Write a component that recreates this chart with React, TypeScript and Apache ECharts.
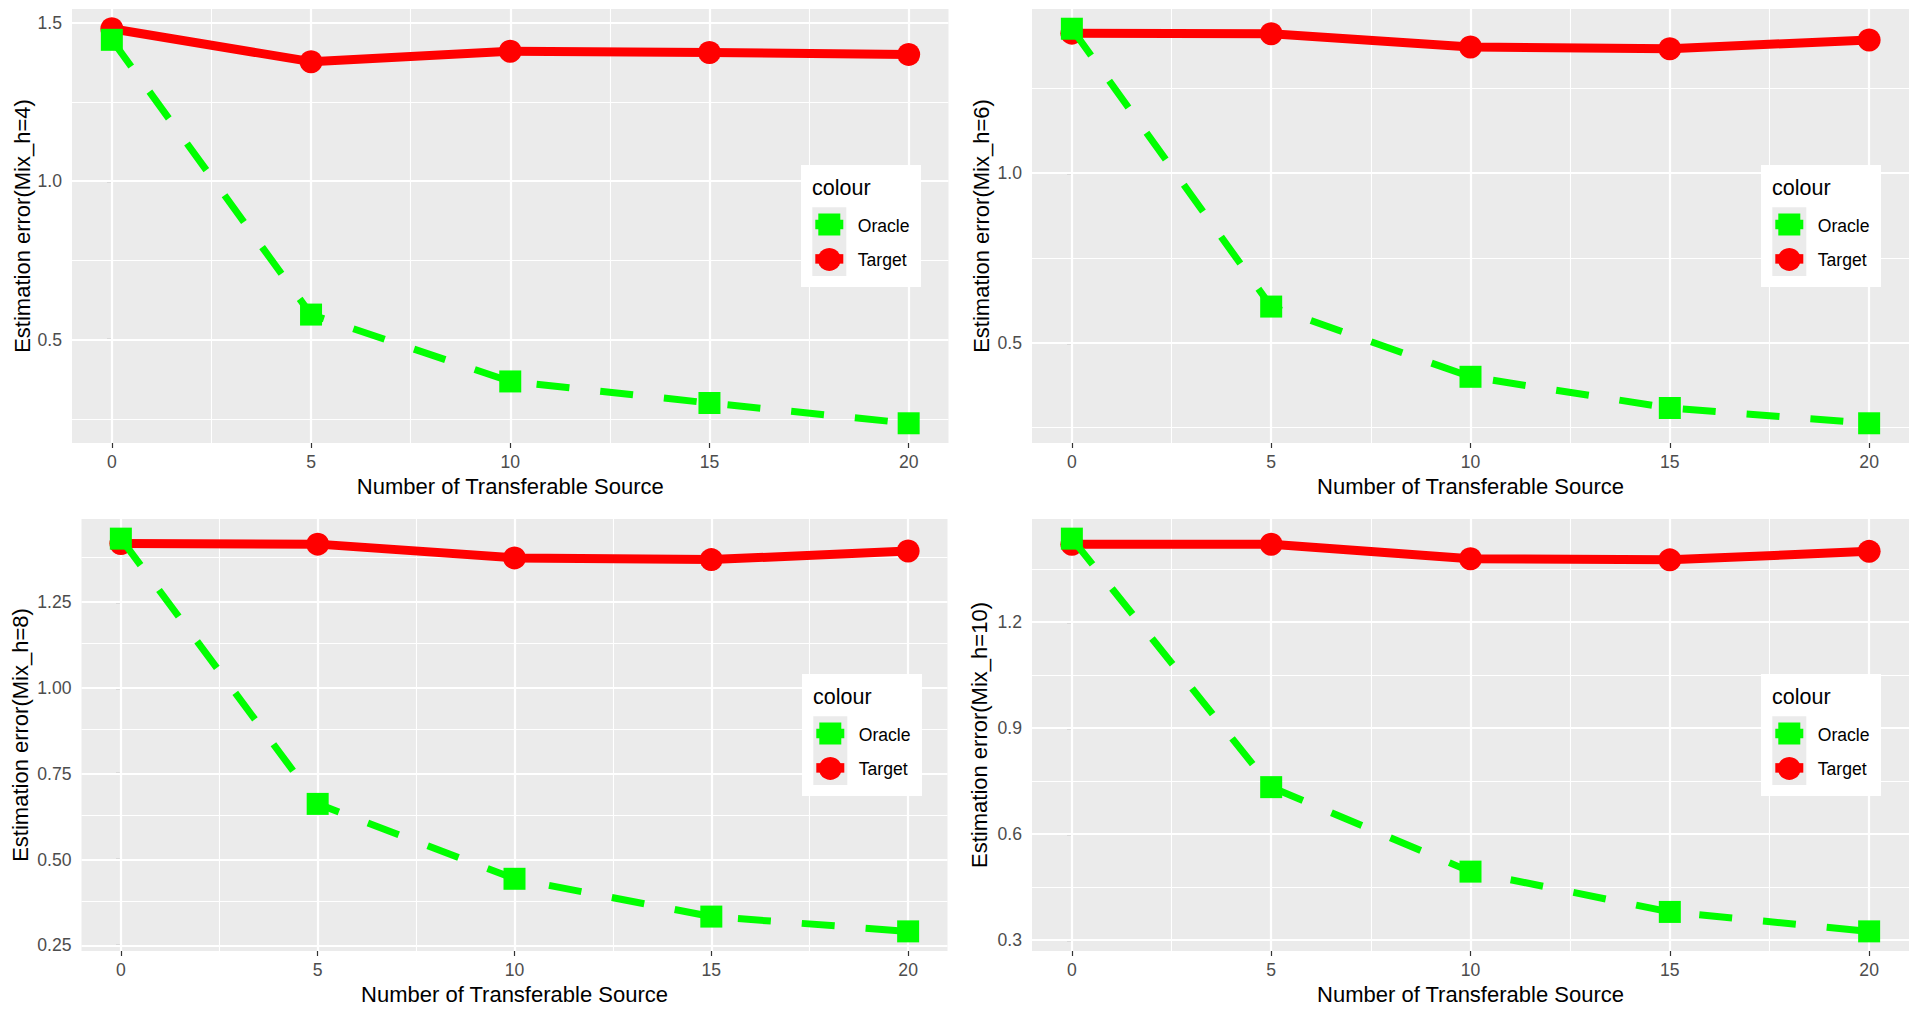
import React, { useEffect, useRef } from "react";
import * as echarts from "echarts";

// ---------- data ----------
const sources = [0, 5, 10, 15, 20];
const seriesNames = ["Oracle", "Target"];
const xTitle = "Number of Transferable Source";
const yTitles = [
  "Estimation error(Mix_h=4)",
  "Estimation error(Mix_h=6)",
  "Estimation error(Mix_h=8)",
  "Estimation error(Mix_h=10)",
];

const oracleH4 = [1.446, 0.579, 0.368, 0.3, 0.236];
const targetH4 = [1.481, 1.377, 1.41, 1.406, 1.4];
const oracleH6 = [1.426, 0.607, 0.4, 0.308, 0.263];
const targetH6 = [1.413, 1.411, 1.372, 1.367, 1.393];
const oracleH8 = [1.434, 0.662, 0.444, 0.334, 0.291];
const targetH8 = [1.42, 1.418, 1.378, 1.373, 1.398];
const oracleH10 = [1.436, 0.733, 0.494, 0.38, 0.325];
const targetH10 = [1.42, 1.42, 1.379, 1.376, 1.4];

const xMajor = [0, 5, 10, 15, 20];
const xMinor = [2.5, 7.5, 12.5, 17.5];
const yMajorH4 = [0.5, 1.0, 1.5];
const yMinorH4 = [0.25, 0.75, 1.25];
const yMajorH6 = [0.5, 1.0];
const yMinorH6 = [0.25, 0.75, 1.25];
const yMajorH8 = [0.25, 0.5, 0.75, 1.0, 1.25];
const yMinorH8 = [0.375, 0.625, 0.875, 1.125, 1.375];
const yMajorH10 = [0.3, 0.6, 0.9, 1.2];
const yMinorH10 = [0.45, 0.75, 1.05, 1.35];
const yDecimals = [1, 1, 2, 1];

const oracleAll = [oracleH4, oracleH6, oracleH8, oracleH10];
const targetAll = [targetH4, targetH6, targetH8, targetH10];
const yMajorAll = [yMajorH4, yMajorH6, yMajorH8, yMajorH10];
const yMinorAll = [yMinorH4, yMinorH6, yMinorH8, yMinorH10];

// ---------- layout / style ----------
const FONT = "'Liberation Sans', Arial, Helvetica, sans-serif";
const PANEL_BG = "#EBEBEB";
const ORACLE_COLOR = "#00FF00";
const TARGET_COLOR = "#FF0000";
const TITLE_SIZE = 22;
const SMALL_SIZE = 17.6;

const PANELS = [
  { left: 72, right: 948.5, top: 9, bottom: 443, yGap: 38, legend: [801, 165] },
  { left: 1032, right: 1909, top: 9, bottom: 443, yGap: 40, legend: [1761, 165] },
  { left: 81.5, right: 947.5, top: 519, bottom: 951, yGap: 50, legend: [802, 674] },
  { left: 1032, right: 1909, top: 519, bottom: 951, yGap: 42, legend: [1761, 674] },
];

function expandRange(vals: number[]) {
  const lo = Math.min(...vals);
  const hi = Math.max(...vals);
  const pad = (hi - lo) * 0.05;
  return [lo - pad, hi + pad];
}

function buildOption() {
  const grid: any[] = [];
  const xAxis: any[] = [];
  const yAxis: any[] = [];
  const series: any[] = [];
  const graphic: any[] = [];
  const [xMin, xMax] = expandRange(sources);

  PANELS.forEach((p, i) => {
    grid.push({
      left: p.left,
      top: p.top,
      width: p.right - p.left,
      height: p.bottom - p.top,
      show: true,
      backgroundColor: PANEL_BG,
      borderWidth: 0,
    });
    xAxis.push({
      type: "value",
      gridIndex: i,
      min: xMin,
      max: xMax,
      axisLine: { show: false },
      axisTick: {
        show: true,
        length: 5,
        customValues: xMajor,
        lineStyle: { color: "#333333", width: 1.2 },
      },
      axisLabel: {
        customValues: xMajor,
        color: "#4D4D4D",
        fontSize: SMALL_SIZE,
        fontFamily: FONT,
        margin: 10,
        formatter: (v: number) => String(v),
      },
      splitLine: { show: false },
      name: xTitle,
      nameLocation: "middle",
      nameGap: 32,
      nameTextStyle: { color: "#000000", fontSize: TITLE_SIZE, fontFamily: FONT },
    });
    const [yMin, yMax] = expandRange([...oracleAll[i], ...targetAll[i]]);
    const dec = yDecimals[i];
    yAxis.push({
      type: "value",
      gridIndex: i,
      min: yMin,
      max: yMax,
      axisLine: { show: false },
      axisTick: {
        show: true,
        length: 5,
        customValues: yMajorAll[i],
        lineStyle: { color: "#333333", width: 1.2 },
      },
      axisLabel: {
        customValues: yMajorAll[i],
        color: "#4D4D4D",
        fontSize: SMALL_SIZE,
        fontFamily: FONT,
        margin: 10,
        formatter: (v: number) => v.toFixed(dec),
      },
      splitLine: { show: false },
      name: yTitles[i],
      nameLocation: "middle",
      nameRotate: 90,
      nameGap: p.yGap,
      nameTextStyle: { color: "#000000", fontSize: TITLE_SIZE, fontFamily: FONT },
    });

    const gridLines: any[] = [];
    xMinor.forEach((v) => gridLines.push({ xAxis: v, lineStyle: { width: 1.1 } }));
    yMinorAll[i].forEach((v) => gridLines.push({ yAxis: v, lineStyle: { width: 1.1 } }));
    xMajor.forEach((v) => gridLines.push({ xAxis: v, lineStyle: { width: 2.2 } }));
    yMajorAll[i].forEach((v) => gridLines.push({ yAxis: v, lineStyle: { width: 2.2 } }));

    series.push({
      type: "line",
      name: "grid-" + i,
      xAxisIndex: i,
      yAxisIndex: i,
      data: [],
      z: 1,
      silent: true,
      markLine: {
        z: 1,
        silent: true,
        symbol: ["none", "none"],
        label: { show: false },
        emphasis: { disabled: true },
        lineStyle: { color: "#FFFFFF", type: "solid" },
        data: gridLines,
      },
    });

    series.push({
      type: "line",
      name: seriesNames[1],
      xAxisIndex: i,
      yAxisIndex: i,
      data: sources.map((x, j) => [x, targetAll[i][j]]),
      symbol: "circle",
      symbolSize: 23,
      showAllSymbol: true,
      lineStyle: { color: TARGET_COLOR, width: 9, cap: "butt" },
      itemStyle: { color: TARGET_COLOR },
      emphasis: { disabled: true },
      silent: true,
      z: 3,
    });
    series.push({
      type: "line",
      name: seriesNames[0],
      xAxisIndex: i,
      yAxisIndex: i,
      data: sources.map((x, j) => [x, oracleAll[i][j]]),
      symbol: "rect",
      symbolSize: 22,
      showAllSymbol: true,
      lineStyle: { color: ORACLE_COLOR, width: 7, type: [33, 31], cap: "butt" },
      itemStyle: { color: ORACLE_COLOR },
      emphasis: { disabled: true },
      silent: true,
      z: 4,
    });

    // legend (ggplot style)
    const [lx, ly] = p.legend;
    const keyX = lx + 11.3;
    const keyW = 34;
    const keyH = 34.4;
    const k1 = ly + 42.3;
    const k2 = k1 + keyH;
    const cx = keyX + keyW / 2;
    graphic.push(
      { type: "rect", shape: { x: lx, y: ly, width: 120, height: 122 }, style: { fill: "#FFFFFF" }, z: 10, silent: true },
      {
        type: "text",
        x: lx + 11,
        y: ly + 22.5,
        style: { text: "colour", fill: "#000000", fontSize: 21.5, fontFamily: FONT, verticalAlign: "middle", align: "left" },
        z: 11,
        silent: true,
      },
      { type: "rect", shape: { x: keyX, y: k1, width: keyW, height: keyH * 2 }, style: { fill: PANEL_BG }, z: 11, silent: true },
      {
        type: "line",
        shape: { x1: keyX + 3, y1: k1 + keyH / 2, x2: keyX + keyW - 3, y2: k1 + keyH / 2 },
        style: { stroke: ORACLE_COLOR, lineWidth: 9.5 },
        z: 12,
        silent: true,
      },
      {
        type: "rect",
        shape: { x: cx - 11, y: k1 + keyH / 2 - 11, width: 22, height: 22 },
        style: { fill: ORACLE_COLOR },
        z: 13,
        silent: true,
      },
      {
        type: "line",
        shape: { x1: keyX + 3, y1: k2 + keyH / 2, x2: keyX + keyW - 3, y2: k2 + keyH / 2 },
        style: { stroke: TARGET_COLOR, lineWidth: 9.5 },
        z: 12,
        silent: true,
      },
      {
        type: "circle",
        shape: { cx: cx, cy: k2 + keyH / 2 + 0.5, r: 11.5 },
        style: { fill: TARGET_COLOR },
        z: 13,
        silent: true,
      },
      {
        type: "text",
        x: lx + 56.7,
        y: k1 + keyH / 2 + 1.5,
        style: { text: seriesNames[0], fill: "#000000", fontSize: SMALL_SIZE, fontFamily: FONT, verticalAlign: "middle", align: "left" },
        z: 13,
        silent: true,
      },
      {
        type: "text",
        x: lx + 56.7,
        y: k2 + keyH / 2 + 1,
        style: { text: seriesNames[1], fill: "#000000", fontSize: SMALL_SIZE, fontFamily: FONT, verticalAlign: "middle", align: "left" },
        z: 13,
        silent: true,
      }
    );
  });

  return {
    animation: false,
    backgroundColor: "#FFFFFF",
    textStyle: { fontFamily: FONT },
    grid,
    xAxis,
    yAxis,
    series,
    graphic,
  };
}

export default function App() {
  const ref = useRef<HTMLDivElement>(null);
  useEffect(() => {
    if (!ref.current) return;
    const chart = echarts.init(ref.current, undefined, { renderer: "svg" });
    chart.setOption(buildOption());
    return () => chart.dispose();
  }, []);
  return (
    <div
      ref={ref}
      style={{ position: "fixed", left: 0, top: 0, width: "1920px", height: "1017px", background: "#FFFFFF" }}
    />
  );
}
